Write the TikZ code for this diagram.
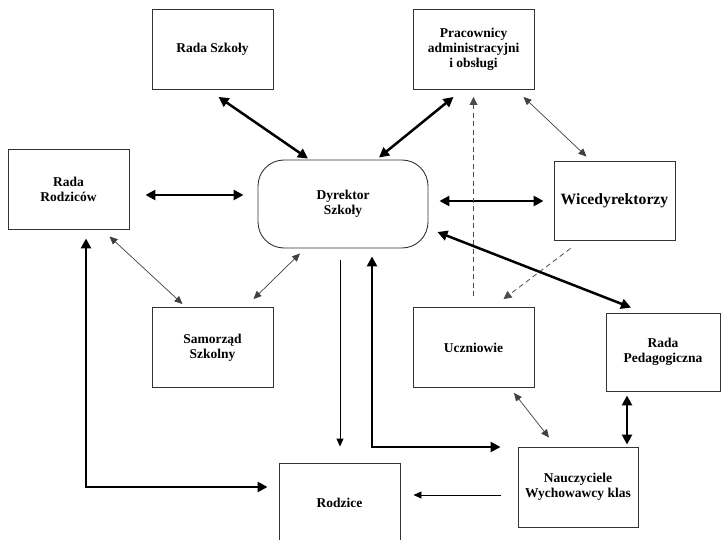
\documentclass[tikz,border=0pt]{standalone}
\usepackage{fontspec}
\setmainfont{Liberation Serif}
\usetikzlibrary{arrows.meta, positioning, calc}

\begin{document}
\begin{tikzpicture}[x=1pt,y=-1pt,on grid,
      box/.style={draw=black!80,line width=0.9pt,minimum width=121pt,minimum height=80pt,
        align=center,font=\bfseries\fontsize{13.5}{15}\selectfont},
      big/.style={{Triangle[length=10pt,width=10pt]}-{Triangle[length=10pt,width=10pt]},line width=2.5pt},
      thin/.style={{Triangle[length=8pt,width=7pt]}-{Triangle[length=8pt,width=7pt]},line width=0.7pt,black!75},
      one/.style={-{Triangle[length=8pt,width=7pt]},line width=0.9pt},
      dashedarrow/.style={-{Triangle[length=8pt,width=8pt]},line width=0.8pt,black!70,dash pattern=on 5pt off 3.5pt}]
      \useasboundingbox (0,0) rectangle (722,540);
      \node[box] (rs) at (212.5,49.5) {Rada Szkoły};
      \node[box] (prac) [right=261pt of rs] {Pracownicy\\administracyjni\\i obsługi};
      \node[box] (sam) [below=298pt of rs] {Samorząd\\Szkolny};
      \node[box] (ucz) [below=298pt of prac] {Uczniowie};
      \node[box] (rr) at (68.5,189) {Rada\\Rodziców};
      \node[box,rounded corners=26pt,minimum width=170pt,minimum height=88pt] (dyr) at (343,204) {Dyrektor\\Szkoły};
      \node[box,minimum height=79pt,font=\bfseries\fontsize{15.7}{18}\selectfont] (wic) at (614.5,200.5) {Wicedyrektorzy};
      \node[box,minimum width=114pt,minimum height=78pt] (rped) at (663,352) {Rada\\Pedagogiczna};
      \node[box,minimum width=120pt] (naucz) at (578,487) {Nauczyciele\\Wychowawcy klas};
      \node[box] (rodz) at (339.5,503) {Rodzice};
      % strzalki
      \draw[big] ($(rs.south)+(6,7)$) -- ($(dyr.north)+(-35,-1)$);
      \draw[big] ($(rr.east)+(16,6)$) -- ($(dyr.west)+(-14,-9)$);
      \draw[big] ($(prac.south)+(-20,7)$) -- ($(dyr.north)+(36,-2)$);
      \draw[thin] ($(prac.south)+(50,7)$) -- ($(wic.north)+(-28,-4)$);
      \draw[big] ($(dyr.east)+(11,-3)$) -- ($(wic.west)+(-10,0.5)$);
      \draw[dashedarrow] ($(ucz.north)+(0,-11)$) -- ($(prac.south)+(0,7)$);
      \draw[dashedarrow] ($(wic.south)+(-44,8)$) -- ($(ucz.north)+(30,-8)$);
      \draw[big] ($(dyr.east)+(9,28)$) -- ($(rped.north)+(-32,-5)$);
      \draw[thin] ($(rr.south)+(41,7)$) -- ($(sam.north)+(-30,-3)$);
      \draw[thin] ($(dyr.south)+(-43,5)$) -- ($(sam.north)+(41,-8)$);
      \draw[one] ($(dyr.south)+(-3,12)$) -- ($(rodz.north)+(0.5,-16)$);
      \draw[big] ($(dyr.south)+(29,8)$) |- ($(naucz.west)+(-17,-40)$);
      \draw[big] ($(rr.south)+(17.5,9)$) |- ($(rodz.west)+(-11,-16)$);
      \draw[thin] ($(ucz.south)+(40.5,5)$) -- ($(naucz.north)+(-29,-9)$);
      \draw[big] ($(rped.south)+(-36,4)$) -- ($(naucz.north)+(49,-2)$);
      \draw[one] ($(naucz.west)+(-17,8)$) -- ($(rodz.east)+(13,-8)$);
    \end{tikzpicture}
\end{document}
